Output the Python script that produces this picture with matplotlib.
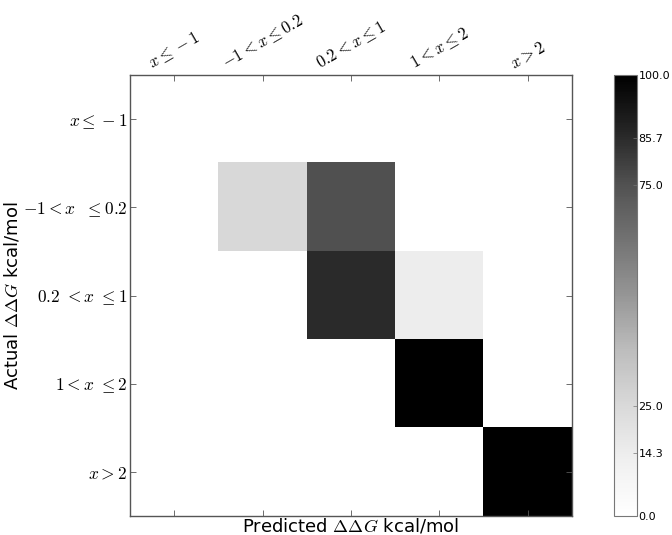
import numpy as np
import matplotlib
matplotlib.use("Agg")
import matplotlib.pyplot as plt

plt.rcParams['mathtext.fontset'] = 'cm'
plt.rcParams['xtick.direction'] = 'in'
plt.rcParams['ytick.direction'] = 'in'

# bins of ddG (kcal/mol)
labels_x = [r"$x \leq -1$", r"$-1 < x \leq 0.2$", r"$0.2 < x \leq 1$",
            r"$1 {<} x \leq 2$", r"$x > 2$"]
labels_y = [r"$x \leq -1$", r"$-1 < x\ \ \leq 0.2$", r"$0.2\ < x\ \leq 1$",
            r"$1 < x\ \leq 2$", r"$x > 2$"]

# percentage of each actual bin (rows) predicted in each bin (columns)
row0 = [0.0, 0.0, 0.0, 0.0, 0.0]
row1 = [0.0, 25.0, 75.0, 0.0, 0.0]
row2 = [0.0, 0.0, 85.7, 14.3, 0.0]
row3 = [0.0, 0.0, 0.0, 100.0, 0.0]
row4 = [0.0, 0.0, 0.0, 0.0, 100.0]
cbar_ticks = [0.0, 14.3, 25.0, 75.0, 85.7, 100.0]

conf = np.array([row0, row1, row2, row3, row4])

fig = plt.figure(figsize=(6.72, 5.35), dpi=100)
ax = fig.add_axes([0.1935, 0.0355, 0.6577, 0.8243])
cax = fig.add_axes([0.9137, 0.0355, 0.0342, 0.8243])

im = ax.imshow(conf, cmap='Greys', vmin=0, vmax=100, interpolation='nearest',
               aspect='auto')
ax.set_xticks(range(5))
ax.set_yticks(range(5))
ax.xaxis.tick_top()
ax.tick_params(top=True, bottom=True, left=True, right=True, length=4,
               width=0.6, color='#555555', pad=2)
ax.set_xticklabels(labels_x, rotation=30, fontsize=12, ha='center')
ax.set_yticklabels(labels_y, fontsize=12.5)
for sp in ax.spines.values():
    sp.set_color('#555555')
    sp.set_linewidth(1.0)

ax.set_xlabel(r"Predicted $\Delta\Delta G$ kcal/mol", fontsize=13, labelpad=0)
ax.xaxis.set_label_position('bottom')
ax.set_ylabel(r"Actual $\Delta\Delta G$ kcal/mol", fontsize=13, labelpad=1)

cb = fig.colorbar(im, cax=cax, ticks=cbar_ticks)
cb.ax.set_yticklabels(["%.1f" % t for t in cbar_ticks], fontsize=8)
cb.ax.tick_params(length=3, width=0.5, color='#777777', pad=1)
cb.outline.set_edgecolor('#777777')

fig.savefig("out.png", dpi=100)
